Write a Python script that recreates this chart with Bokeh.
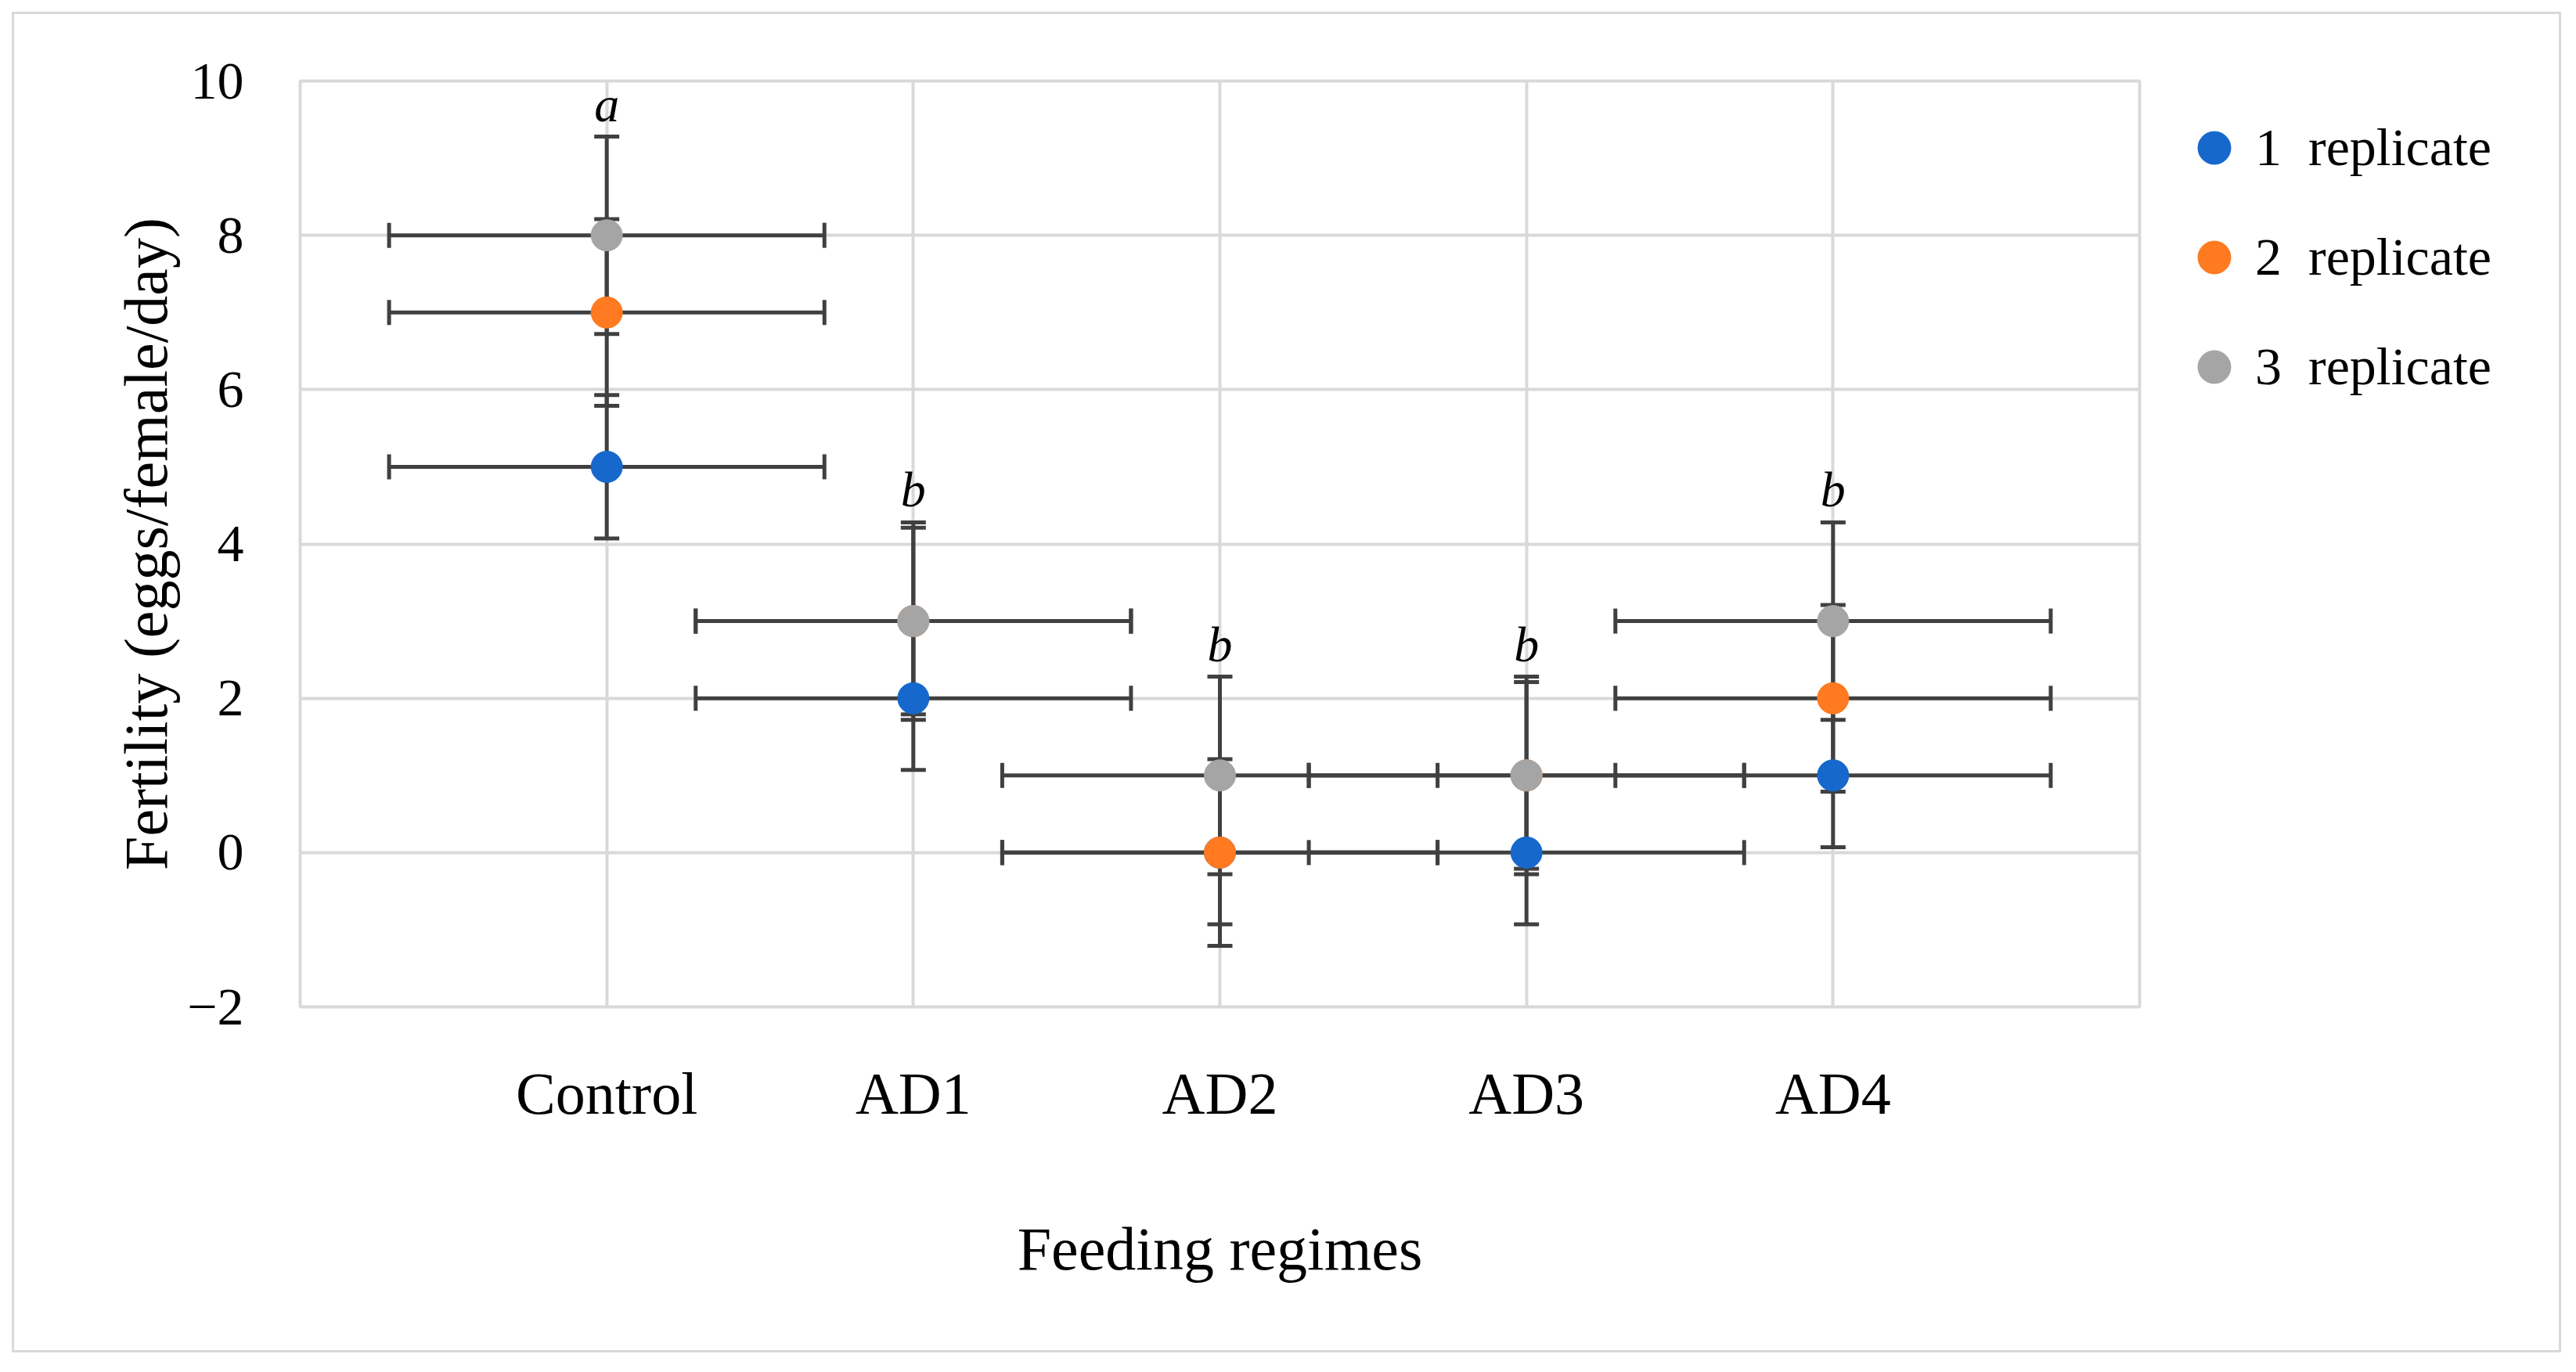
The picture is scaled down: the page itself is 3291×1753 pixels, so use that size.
from bokeh.plotting import figure
from bokeh.layouts import row
from bokeh.models import (Whisker, TeeHead, FixedTicker, Legend, LegendItem,
                          ColumnDataSource, Range1d)
from bokeh.core.properties import value
from bokeh.embed import file_html
from bokeh.resources import INLINE

# ---------------- data ----------------
categories = ["Control", "AD1", "AD2", "AD3", "AD4"]
cat_pos = [1, 2, 3, 4, 5]

rep1 = [5, 2, 0, 0, 1]
rep2 = [7, 3, 0, 1, 2]
rep3 = [8, 3, 1, 1, 3]

yerr1 = [0.93, 0.93, 0.93, 0.93, 0.93]
yerr2 = [1.21, 1.21, 1.21, 1.21, 1.21]
yerr3 = [1.28, 1.28, 1.28, 1.28, 1.28]
xerr = [0.71, 0.71, 0.71, 0.71, 0.71]

letters = ["a", "b", "b", "b", "b"]
series_names = ["1  replicate", "2  replicate", "3  replicate"]
colors = ["#1668CC", "#FF7A21", "#A5A5A5"]
y_ticks = [-2, 0, 2, 4, 6, 8, 10]
y_tick_labels = ["\u22122", "0", "2", "4", "6", "8", "10"]

FONT = "Liberation Serif"
ERR_COLOR = "#404040"
GRID_COLOR = "#D9D9D9"
H = 1707

p = figure(width=2725, height=H,
           x_range=Range1d(0, 6), y_range=Range1d(-2, 10),
           output_backend="svg", toolbar_location=None,
           min_border_left=365, min_border_right=10,
           min_border_top=85, min_border_bottom=439)

p.background_fill_color = "white"
p.border_fill_color = "white"
p.outline_line_color = GRID_COLOR
p.outline_line_width = 4

# grids
p.xgrid.ticker = FixedTicker(ticks=cat_pos)
p.ygrid.ticker = FixedTicker(ticks=y_ticks)
for g in (p.xgrid, p.ygrid):
    g.grid_line_color = GRID_COLOR
    g.grid_line_width = 4

# x axis
p.xaxis.ticker = FixedTicker(ticks=cat_pos)
p.xaxis.major_label_overrides = {k: v for k, v in zip(cat_pos, categories)}
p.xaxis.axis_label = "Feeding regimes"
p.xaxis.major_label_standoff = 62
p.xaxis.axis_label_standoff = 110

# y axis
p.yaxis.ticker = FixedTicker(ticks=y_ticks)
p.yaxis.major_label_overrides = {k: v for k, v in zip(y_ticks, y_tick_labels)}
p.yaxis.axis_label = "Fertility (eggs/female/day)"
p.yaxis.major_label_standoff = 66
p.yaxis.axis_label_standoff = 6

for ax in (p.xaxis, p.yaxis):
    ax.axis_line_color = None
    ax.major_tick_line_color = None
    ax.minor_tick_line_color = None
    ax.major_label_text_font = FONT
    ax.major_label_text_color = "black"
    ax.axis_label_text_font = FONT
    ax.axis_label_text_font_size = "78px"
    ax.axis_label_text_font_style = "normal"
    ax.axis_label_text_color = "black"
p.xaxis.major_label_text_font_size = "76px"
p.yaxis.major_label_text_font_size = "68px"

# error bars
series = [(rep1, yerr1), (rep2, yerr2), (rep3, yerr3)]
for vals, yerr in series:
    src = ColumnDataSource(dict(
        x=cat_pos, y=vals,
        xlo=[c - e for c, e in zip(cat_pos, xerr)],
        xhi=[c + e for c, e in zip(cat_pos, xerr)],
        ylo=[v - e for v, e in zip(vals, yerr)],
        yhi=[v + e for v, e in zip(vals, yerr)],
    ))
    for dim, base, lo, hi in (("width", "y", "xlo", "xhi"),
                              ("height", "x", "ylo", "yhi")):
        w = Whisker(source=src, base=base, lower=lo, upper=hi, dimension=dim,
                    line_color=ERR_COLOR, line_width=5,
                    upper_head=TeeHead(size=32, line_color=ERR_COLOR, line_width=5),
                    lower_head=TeeHead(size=32, line_color=ERR_COLOR, line_width=5))
        p.add_layout(w)

# markers
for (vals, _), col in zip(series, colors):
    p.scatter(x=cat_pos, y=vals, size=40, fill_color=col, line_color=col,
              line_width=1)

# significance letters above the highest error bar of each group
tops = [max(a + ea, b + eb, c + ec) for a, ea, b, eb, c, ec in
        zip(rep1, yerr1, rep2, yerr2, rep3, yerr3)]
p.text(x=cat_pos, y=[t + 0.42 for t in tops], text=letters,
       text_font=value(FONT), text_font_style="italic", text_font_size="64px",
       text_align="center", text_baseline="alphabetic", text_color="black")

# legend panel (separate canvas to the right of the plot area); its renderers
# hold the same series but the view range keeps them out of sight, so only
# the legend entries show.
pl = figure(width=526, height=H, x_range=Range1d(-20, -10), y_range=Range1d(-20, -10),
            output_backend="svg", toolbar_location=None,
            x_axis_type=None, y_axis_type=None,
            min_border_left=0, min_border_right=0,
            min_border_top=64, min_border_bottom=0)
pl.outline_line_color = None
pl.grid.visible = False
pl.background_fill_color = "white"
pl.border_fill_color = "white"

leg_renderers = [pl.scatter(x=cat_pos, y=vals, size=40,
                            fill_color=col, line_color=col)
                 for (vals, _), col in zip(series, colors)]
legend = Legend(items=[LegendItem(label=n, renderers=[r])
                       for n, r in zip(series_names, leg_renderers)],
                location="top_left", orientation="vertical",
                glyph_width=105, glyph_height=105, label_height=105,
                spacing=35, padding=0, margin=33, label_standoff=-12,
                border_line_color=None, background_fill_alpha=0,
                label_text_font=FONT, label_text_font_size="68px",
                label_text_color="black")
pl.add_layout(legend)

layout = row(p, pl, spacing=0, margin=(15, 0, 0, 15),
             styles={"border": "3px solid #D9D9D9"})

open("out.html", "w").write(file_html(layout, INLINE))
